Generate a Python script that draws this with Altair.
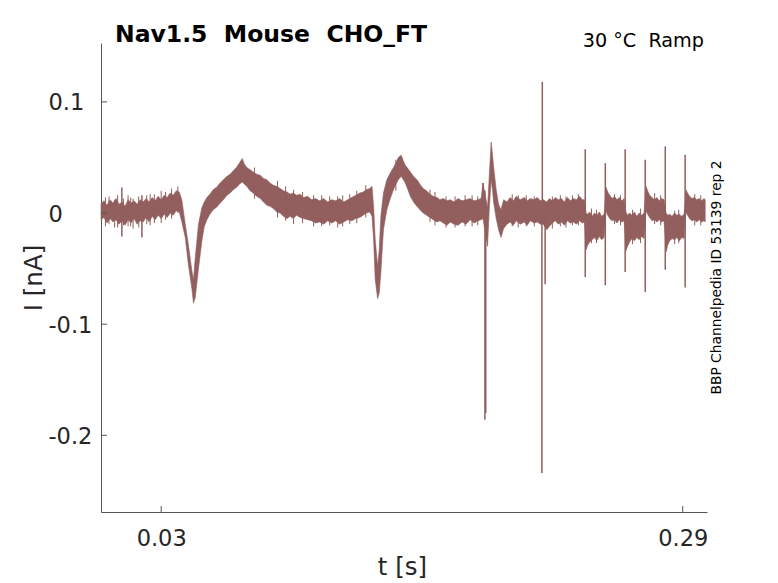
import altair as alt
import pandas as pd

# ---- trace envelope (time in s, upper / lower edge of the noisy band in nA) ----
T = [0.0000, 0.0015, 0.0030, 0.0045, 0.0060, 0.0075, 0.0090, 0.0105, 0.0120, 0.0135,
     0.0150, 0.0165, 0.0180, 0.0195, 0.0210, 0.0225, 0.0240, 0.0255, 0.0270, 0.0285,
     0.0300, 0.0315, 0.0330, 0.0345, 0.0360, 0.0375, 0.0390, 0.0403, 0.0420, 0.0436,
     0.0453, 0.0461, 0.0470, 0.0486, 0.0503, 0.0515, 0.0528, 0.0543, 0.0559, 0.0575,
     0.0594, 0.0610, 0.0628, 0.0644, 0.0659, 0.0675, 0.0690, 0.0704, 0.0715, 0.0727,
     0.0743, 0.0759, 0.0776, 0.0794, 0.0810, 0.0827, 0.0843, 0.0859, 0.0876, 0.0893,
     0.0910, 0.0927, 0.0943, 0.0958, 0.0975, 0.0993, 0.1010, 0.1030, 0.1050, 0.1070,
     0.1090, 0.1110, 0.1130, 0.1150, 0.1170, 0.1190, 0.1210, 0.1230, 0.1250, 0.1270,
     0.1290, 0.1307, 0.1322, 0.1340, 0.1351, 0.1359, 0.1367, 0.1379, 0.1387, 0.1395,
     0.1408, 0.1425, 0.1442, 0.1458, 0.1470, 0.1482, 0.1497, 0.1507, 0.1517, 0.1530,
     0.1542, 0.1558, 0.1575, 0.1590, 0.1606, 0.1623, 0.1640, 0.1656, 0.1675, 0.1690,
     0.1706, 0.1725, 0.1741, 0.1760, 0.1780, 0.1800, 0.1820, 0.1840, 0.1860, 0.1880,
     0.1895, 0.1904, 0.1927, 0.1936, 0.1945, 0.1952, 0.1957, 0.1970, 0.1982, 0.1994,
     0.2007, 0.2024, 0.2040, 0.2055, 0.2070, 0.2090, 0.2110, 0.2125, 0.2140, 0.2160,
     0.2175, 0.2190, 0.2205, 0.2222, 0.2235, 0.2250, 0.2265, 0.2280, 0.2295, 0.2310,
     0.2325, 0.2340, 0.2355, 0.2370, 0.2385, 0.2400, 0.2410,
     0.2418, 0.2426, 0.2436, 0.2448, 0.2460, 0.2472, 0.2484, 0.2496, 0.2508,
     0.2518, 0.2526, 0.2536, 0.2548, 0.2560, 0.2572, 0.2584, 0.2596, 0.2608,
     0.2617, 0.2625, 0.2635, 0.2647, 0.2659, 0.2671, 0.2683, 0.2695, 0.2707,
     0.2717, 0.2725, 0.2735, 0.2747, 0.2759, 0.2771, 0.2783, 0.2795, 0.2807,
     0.2817, 0.2825, 0.2835, 0.2847, 0.2859, 0.2871, 0.2883, 0.2895, 0.2907,
     0.2916, 0.2924, 0.2934, 0.2946, 0.2958, 0.2970, 0.2982, 0.2994, 0.3006, 0.3012]
HI = [0.008, 0.011, 0.007, 0.012, 0.009, 0.013, 0.008, 0.010, 0.006, 0.012,
      0.009, 0.011, 0.008, 0.012, 0.010, 0.013, 0.010, 0.014, 0.011, 0.015,
      0.012, 0.016, 0.014, 0.018, 0.016, 0.020, 0.019, 0.012, -0.010, -0.029,
      -0.052, -0.060, -0.040, -0.010, 0.005, 0.010, 0.014, 0.017, 0.021, 0.023,
      0.027, 0.030, 0.033, 0.035, 0.038, 0.041, 0.045, 0.049, 0.044, 0.041,
      0.039, 0.037, 0.035, 0.034, 0.031, 0.030, 0.027, 0.025, 0.024, 0.022,
      0.020, 0.019, 0.017, 0.018, 0.016, 0.017, 0.014, 0.015, 0.012, 0.013,
      0.011, 0.013, 0.010, 0.012, 0.011, 0.013, 0.010, 0.012, 0.014, 0.016,
      0.018, 0.019, 0.021, 0.022, 0.024, 0.006, -0.024, -0.048, -0.033, -0.003,
      0.018, 0.030, 0.036, 0.041, 0.045, 0.050, 0.052, 0.047, 0.043, 0.040,
      0.037, 0.033, 0.030, 0.026, 0.022, 0.020, 0.017, 0.015, 0.014, 0.012,
      0.013, 0.011, 0.012, 0.010, 0.013, 0.011, 0.012, 0.013, 0.011, 0.012,
      0.013, 0.027, 0.005, 0.035, 0.064, 0.052, 0.042, 0.021, 0.008, 0.003,
      0.012, 0.010, 0.014, 0.011, 0.015, 0.012, 0.014, 0.011, 0.013, 0.012,
      0.014, 0.011, 0.012, 0.010, 0.013, 0.011, 0.014, 0.012, 0.013, 0.010,
      0.014, 0.011, 0.013, 0.012, 0.015, 0.012, 0.012,
      0.000, -0.001, 0.001, -0.003, 0.000, -0.002, 0.001, -0.003, -0.001,
      0.023, 0.019, 0.016, 0.013, 0.015, 0.012, 0.014, 0.011, 0.013,
      0.001, -0.002, 0.000, -0.002, 0.001, -0.003, 0.000, -0.002, 0.000,
      0.024, 0.020, 0.016, 0.014, 0.012, 0.014, 0.011, 0.013, 0.012,
      0.000, -0.002, -0.001, -0.003, 0.000, -0.002, -0.001, -0.003, -0.001,
      0.021, 0.018, 0.015, 0.013, 0.014, 0.012, 0.013, 0.011, 0.013, 0.012]
LO = [-0.006, -0.004, -0.009, -0.005, -0.008, -0.006, -0.010, -0.007, -0.011, -0.006,
      -0.009, -0.005, -0.010, -0.007, -0.008, -0.004, -0.008, -0.003, -0.006, -0.002,
      -0.005, -0.001, -0.004, 0.000, -0.002, 0.002, 0.001, -0.008, -0.022, -0.047,
      -0.068, -0.081, -0.076, -0.050, -0.025, -0.012, -0.006, -0.001, 0.003, 0.005,
      0.009, 0.012, 0.016, 0.018, 0.021, 0.023, 0.026, 0.028, 0.026, 0.024,
      0.020, 0.018, 0.015, 0.013, 0.010, 0.007, 0.006, 0.004, 0.001, 0.000,
      -0.003, -0.005, -0.003, -0.005, -0.002, -0.004, -0.005, -0.006, -0.007, -0.009,
      -0.008, -0.010, -0.007, -0.009, -0.007, -0.010, -0.008, -0.006, -0.007, -0.005,
      -0.004, -0.002, 0.000, 0.001, -0.003, -0.024, -0.060, -0.077, -0.072, -0.054,
      -0.015, 0.003, 0.013, 0.021, 0.026, 0.030, 0.033, 0.030, 0.027, 0.021,
      0.015, 0.010, 0.006, 0.003, 0.000, -0.002, -0.004, -0.006, -0.008, -0.007,
      -0.009, -0.011, -0.008, -0.010, -0.011, -0.008, -0.010, -0.006, -0.009, -0.007,
      -0.006, -0.005, -0.030, 0.005, 0.030, 0.020, 0.010, -0.005, -0.015, -0.022,
      -0.014, -0.010, -0.008, -0.011, -0.007, -0.010, -0.008, -0.011, -0.007, -0.009,
      -0.008, -0.010, -0.010, -0.015, -0.012, -0.009, -0.007, -0.010, -0.008, -0.011,
      -0.007, -0.009, -0.008, -0.010, -0.007, -0.009, -0.008,
      -0.033, -0.029, -0.026, -0.024, -0.022, -0.025, -0.021, -0.024, -0.022,
      0.002, -0.002, -0.005, -0.007, -0.006, -0.009, -0.006, -0.008, -0.007,
      -0.034, -0.030, -0.026, -0.023, -0.025, -0.022, -0.024, -0.021, -0.023,
      0.002, -0.001, -0.004, -0.007, -0.006, -0.008, -0.006, -0.008, -0.007,
      -0.035, -0.029, -0.025, -0.023, -0.024, -0.022, -0.025, -0.022, -0.023,
      0.001, -0.002, -0.005, -0.007, -0.006, -0.008, -0.006, -0.008, -0.007, -0.008]

# ---- narrow spikes (time, top, bottom) ----
ST = [0.0104, 0.0204, 0.1904, 0.1914, 0.1918, 0.2200, 0.2198, 0.2214,
      0.2414, 0.2514, 0.2613, 0.2713, 0.2813, 0.2912,
      0.0040, 0.0068, 0.0135, 0.0160, 0.0245, 0.0300, 0.0352, 0.0383, 0.0765, 0.0880,
      0.0960, 0.1060, 0.1180, 0.1240, 0.1320, 0.1470, 0.1640, 0.1720, 0.1850, 0.2050,
      0.2120, 0.2250, 0.2350, 0.2470, 0.2560, 0.2650, 0.2760, 0.2860, 0.2960,
      0.0022, 0.0083, 0.0112, 0.0148, 0.0188, 0.0228, 0.0266, 0.0322, 0.0920, 0.1005,
      0.1100, 0.1140, 0.1205, 0.1275, 0.1665, 0.1765, 0.1815, 0.1878, 0.2080, 0.2160,
      0.2290, 0.2318, 0.2380, 0.2445, 0.2590, 0.2690, 0.2790, 0.2880, 0.2990]
SHI = [0.023, 0.016, 0.027, 0.020, 0.010, 0.118, 0.000, 0.000,
       0.0575, 0.045, 0.0575, 0.048, 0.060, 0.0525,
       0.015, 0.012, 0.016, 0.013, 0.017, 0.020, 0.022, 0.024, 0.041, 0.029,
       0.021, 0.016, 0.015, 0.017, 0.025, 0.048, 0.021, 0.015, 0.016, 0.017,
       0.016, 0.015, 0.016, 0.003, 0.017, 0.003, 0.018, 0.002, 0.017,
       0.014, 0.016, 0.013, 0.014, 0.015, 0.016, 0.017, 0.019, 0.024, 0.019,
       0.016, 0.015, 0.016, 0.020, 0.019, 0.015, 0.016, 0.015, 0.016, 0.015,
       0.016, 0.015, 0.017, 0.004, 0.016, 0.004, 0.016, 0.003, 0.016]
SLO = [-0.021, -0.022, 0.000, -0.186, -0.180, -0.005, -0.234, -0.064,
       -0.0576, -0.065, -0.053, -0.071, -0.051, -0.067,
       -0.010, -0.013, -0.012, -0.014, -0.011, -0.009, -0.005, 0.000, 0.013, -0.004,
       -0.010, -0.012, -0.013, -0.010, -0.004, 0.020, -0.008, -0.013, -0.012, -0.012,
       -0.012, -0.014, -0.011, -0.027, -0.010, -0.028, -0.010, -0.028, -0.011,
       -0.012, -0.013, -0.011, -0.012, -0.013, -0.010, -0.009, -0.006, -0.007, -0.009,
       -0.012, -0.011, -0.012, -0.009, -0.011, -0.013, -0.012, -0.011, -0.013, -0.012,
       -0.012, -0.013, -0.011, -0.027, -0.011, -0.027, -0.011, -0.027, -0.011]
SW = [1.5] * 14 + [1.0] * 58

XTICKS = [0.03, 0.29]
XTICK_LABELS = ["0.03", "0.29"]
YTICKS = [-0.2, -0.1, 0.0, 0.1]
YTICK_LABELS = ["-0.2", "-0.1", "\u00a00", "0.1"]
X_DOMAIN = [0.0, 0.3021]
Y_DOMAIN = [-0.269, 0.153]

TITLE = "Nav1.5\u00a0 Mouse\u00a0 CHO_FT"
SUBTITLE = "30 \u00b0C\u00a0 Ramp"
SIDE = "BBP Channelpedia ID 53139 rep 2"
XTITLE = "t [s]"
YTITLE = "I [nA]"

COLOR = "#925e5e"
AXIS = "#555555"
TXT = "#262626"
FONT = "DejaVu Sans"
W, H = 606, 469


def label_expr(vals, labels):
    expr = "''"
    for v, lab in zip(vals, labels):
        expr = f"abs(datum.value - ({v})) < 1e-6 ? '{lab}' : ({expr})"
    return expr


band = pd.DataFrame({"t": T, "hi": HI, "lo": LO})
spikes = pd.DataFrame({"t": ST, "hi": SHI, "lo": SLO, "w": SW})

x_enc = alt.X(
    "t:Q",
    title=XTITLE,
    scale=alt.Scale(domain=X_DOMAIN, nice=False, zero=False),
    axis=alt.Axis(
        values=XTICKS, labelExpr=label_expr(XTICKS, XTICK_LABELS), grid=False,
        ticks=False, domainColor=AXIS, domainWidth=1, labelFont=FONT, labelFontSize=22.5,
        labelColor=TXT, labelPadding=15, labelFlush=False, labelOverlap=False,
        titleFont=FONT, titleFontSize=24.5, titleFontWeight="normal", titleColor=TXT,
        titleX=301, titleY=62, titleBaseline="alphabetic", titleAlign="center",
    ),
)
y_enc = alt.Y(
    "hi:Q",
    title=YTITLE,
    scale=alt.Scale(domain=Y_DOMAIN, nice=False, zero=False),
    axis=alt.Axis(
        values=YTICKS, labelExpr=label_expr(YTICKS, YTICK_LABELS), grid=False,
        ticks=False, domainColor=AXIS, domainWidth=1, labelFont=FONT, labelFontSize=22.5,
        labelColor=TXT, labelPadding=53, labelAlign="left", labelBaseline="middle",
        labelOffset=1, labelFlush=False, labelOverlap=False,
        titleFont=FONT, titleFontSize=24.5, titleFontWeight="normal", titleColor=TXT,
        titleX=-60, titleY=234.5, titleAngle=270, titleBaseline="alphabetic",
        titleAlign="center",
    ),
)

area = alt.Chart(band).mark_area(color=COLOR, opacity=1, stroke=COLOR,
                                 strokeWidth=0.6, interpolate="linear").encode(
    x=x_enc, y=y_enc, y2="lo:Q")

spike = alt.Chart(spikes).mark_rule(color=COLOR).encode(
    x=x_enc, y=y_enc, y2="lo:Q",
    strokeWidth=alt.StrokeWidth("w:Q", scale=None, legend=None))

xt = alt.Chart(pd.DataFrame({"t": XTICKS})).mark_rule(color=AXIS, strokeWidth=1).encode(
    x=x_enc, y=alt.value(H), y2=alt.value(H - 6))
yt = alt.Chart(pd.DataFrame({"hi": YTICKS})).mark_rule(color=AXIS, strokeWidth=1).encode(
    y=y_enc, x=alt.value(0), x2=alt.value(6))

title = alt.Chart(pd.DataFrame({"s": [TITLE]})).mark_text(
    align="left", baseline="alphabetic", font=FONT, fontSize=23.5,
    fontWeight="bold", color="black").encode(
    text="s:N", x=alt.value(14), y=alt.value(-1))
sub = alt.Chart(pd.DataFrame({"s": [SUBTITLE]})).mark_text(
    align="right", baseline="alphabetic", font=FONT, fontSize=19.2,
    color="black").encode(text="s:N", x=alt.value(603), y=alt.value(4))
side = alt.Chart(pd.DataFrame({"s": [SIDE]})).mark_text(
    align="center", baseline="middle", font=FONT, fontSize=13.8, angle=270,
    color="black").encode(text="s:N", x=alt.value(616), y=alt.value(234.5))

chart = alt.layer(area, spike, xt, yt, title, sub, side).properties(
    width=W, height=H,
    background="white",
    autosize=alt.AutoSizeParams(type="none"),
    padding={"left": 93, "top": 35, "right": 60, "bottom": 72},
).configure_view(stroke=None)

chart.save("out.html", embed_options={"renderer": "svg", "actions": False})
